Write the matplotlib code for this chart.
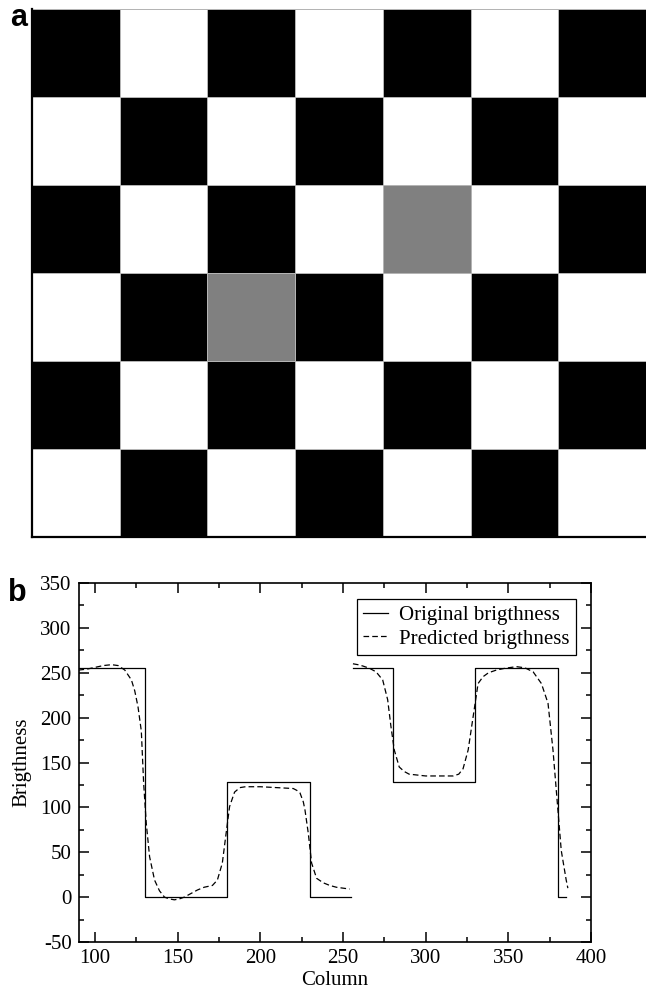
import numpy as np
import matplotlib
matplotlib.use('Agg')
import matplotlib.pyplot as plt
from matplotlib.ticker import MultipleLocator

# SETUP #########################################

plt.rcParams.update({
    'font.family': ['Liberation Serif', 'DejaVu Serif'],
    'font.size': 15,
    'axes.unicode_minus': False,
})

# DATA ##########################################

# panel a: checkerboard grey levels (rows top to bottom)
board = [
    [0, 255, 0, 255, 0, 255, 0],
    [255, 0, 255, 0, 255, 0, 255],
    [0, 255, 0, 255, 128, 255, 0],
    [255, 0, 128, 0, 255, 0, 255],
    [0, 255, 0, 255, 0, 255, 0],
    [255, 0, 255, 0, 255, 0, 255],
]

# panel b: original brightness (two row pieces)
orig_cols_1 = [90, 130, 130, 180, 180, 230, 230, 255]
orig_vals_1 = [255, 255, 0, 0, 128, 128, 0, 0]
orig_cols_2 = [256, 280, 280, 330, 330, 380, 380, 385]
orig_vals_2 = [255, 255, 128, 128, 255, 255, 0, 0]

# panel b: predicted brightness
pred_cols_1 = [90, 95, 100, 105, 110, 114, 118, 122, 124, 126, 128, 129.4, 131, 133,
               136, 139, 142, 145, 148, 151, 154, 158, 162, 166, 171, 174, 177, 179,
               181.4, 184.4, 187.6, 191, 195.7, 200, 205, 210, 215, 219.9, 222, 224,
               226, 227, 229, 231, 234, 238, 242, 246, 250, 254]
pred_vals_1 = [253, 254, 256, 258, 259, 258, 253, 242, 230, 212, 185, 127, 82, 45,
               19, 7, 0, -2, -3, -2, 0, 4, 8, 11, 13, 19, 38, 67,
               101, 117, 122, 123, 123, 123, 122.5, 122, 121.5, 121, 119, 116,
               106, 97, 71, 38, 21, 16, 13, 11, 10, 9]
pred_cols_2 = [256, 259, 262, 266, 270, 274, 277, 279, 281, 284, 287, 290, 295, 300,
               305, 310, 316.6, 320, 322.6, 325.7, 328.7, 331.7, 334.7, 338, 342.8,
               348, 354.9, 360, 365, 370, 374, 377, 379.5, 382, 385, 386]
pred_vals_2 = [260, 259, 257.5, 255, 251, 242, 220, 190, 164, 145, 140, 137, 136, 135,
               135, 135, 135, 137, 143, 164, 201, 238, 245.6, 250, 253,
               255, 256.8, 255.5, 251, 238, 216, 164, 108, 52, 19, 10]

# FIGURE ########################################

fig = plt.figure(figsize=(6.46, 9.91), dpi=100)

# PANEL A ####################

ax_a = fig.add_axes([32/646, 1 - 537/991, 614/646, 528/991])
img = np.array(board, dtype=float)
ax_a.pcolormesh(img, cmap='gray', vmin=0, vmax=255,
                edgecolors='#b4b4b4', linewidth=0.7)
ax_a.set_xlim(0, 7)
ax_a.set_ylim(6, 0)
ax_a.set_xticks([])
ax_a.set_yticks([])
for side in ['top', 'right']:
    ax_a.spines[side].set_visible(False)
for side in ['left', 'bottom']:
    ax_a.spines[side].set_linewidth(1.6)

# PANEL B ####################

ax = fig.add_axes([78.5/646, 1 - 942/991, (591 - 78.5)/646, (942 - 583)/991])

ax.plot(orig_cols_1, orig_vals_1, color='black', linewidth=0.9,
        label='Original brigthness')
ax.plot(orig_cols_2, orig_vals_2, color='black', linewidth=0.9)
ax.plot(pred_cols_1, pred_vals_1, color='black', linewidth=0.9,
        linestyle=(0, (4.5, 2.5)), label='Predicted brigthness')
ax.plot(pred_cols_2, pred_vals_2, color='black', linewidth=0.9,
        linestyle=(0, (4.5, 2.5)))

ax.set_xlim(90, 400)
ax.set_ylim(-50, 350)
ax.xaxis.set_major_locator(MultipleLocator(50))
ax.xaxis.set_minor_locator(MultipleLocator(25))
ax.yaxis.set_major_locator(MultipleLocator(50))
ax.yaxis.set_minor_locator(MultipleLocator(25))
ax.tick_params(which='both', direction='in', top=True, right=True, width=1.1)
ax.tick_params(which='major', length=7.5, pad=5)
ax.tick_params(which='minor', length=3.5)
for side in ax.spines.values():
    side.set_linewidth(1.2)

ax.set_xlabel('Column', labelpad=2)
ax.set_ylabel('Brigthness', labelpad=6)

leg = ax.legend(loc='upper right', bbox_to_anchor=(0.97, 0.955), fancybox=False,
                edgecolor='black', framealpha=1, handlelength=1.2,
                handletextpad=0.5, borderpad=0.3, labelspacing=0.2,
                borderaxespad=0)
leg.get_frame().set_linewidth(0.9)

# PANEL LABELS ###############

fig.text(10/646, 1 - 26/991, 'a', family='Liberation Sans', weight='bold',
         fontsize=22, ha='left', va='baseline')
fig.text(8/646, 1 - 601/991, 'b', family='Liberation Sans', weight='bold',
         fontsize=22, ha='left', va='baseline')

# EXPORT #####################

fig.savefig('out.png', dpi=100)
